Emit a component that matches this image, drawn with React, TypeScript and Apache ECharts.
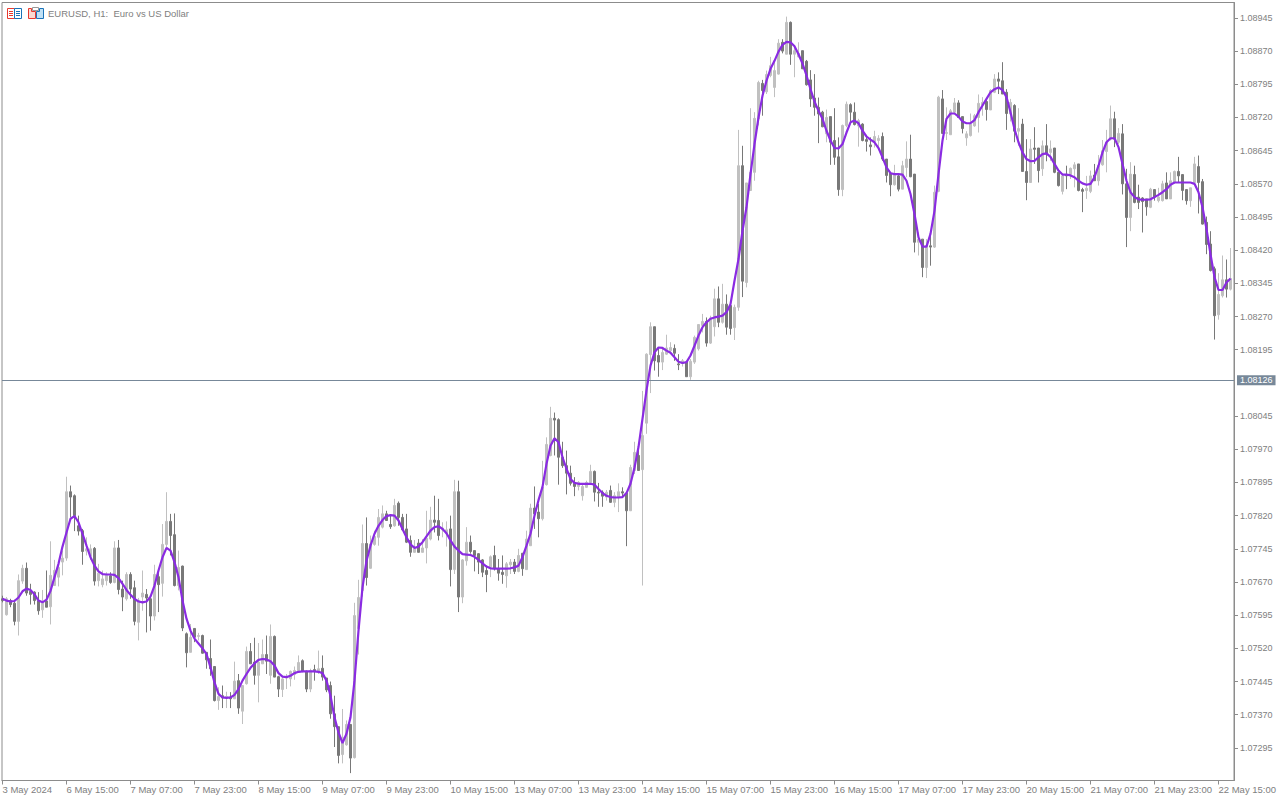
import React, { useEffect, useRef } from "react";
import * as echarts from "echarts";

const title = "EURUSD, H1:  Euro vs US Dollar";
const lastPrice = 1.08126;
const priceTicks = [1.08945,1.0887,1.08795,1.0872,1.08645,1.0857,1.08495,1.0842,1.08345,1.0827,1.08195,1.08045,1.0797,1.07895,1.0782,1.07745,1.0767,1.07595,1.0752,1.07445,1.0737,1.07295];
const timeLabels = ["3 May 2024","6 May 15:00","7 May 07:00","7 May 23:00","8 May 15:00","9 May 07:00","9 May 23:00","10 May 15:00","13 May 07:00","13 May 23:00","14 May 15:00","15 May 07:00","15 May 23:00","16 May 15:00","17 May 07:00","17 May 23:00","20 May 15:00","21 May 07:00","21 May 23:00","22 May 15:00"];

// open, close, low, high in points (1/100000)
const candlesPts = [
[107632,107628,107624,107639],[107596,107632,107594,107636],[107628,107619,107613,107632],[107622,107581,107572,107630],
[107581,107673,107549,107687],[107672,107701,107666,107709],[107701,107645,107639,107714],[107649,107642,107619,107666],
[107647,107628,107619,107649],[107627,107605,107596,107647],[107607,107622,107589,107652],[107627,107613,107613,107696],
[107614,107685,107574,107762],[107662,107696,107662,107720],[107681,107703,107660,107711],[107715,107724,107685,107741],
[107724,107874,107718,107908],[107874,107862,107816,107888],[107865,107820,107785,107868],[107797,107785,107775,107820],
[107786,107739,107709,107790],[107740,107745,107730,107771],[107728,107745,107720,107755],[107746,107672,107662,107749],
[107673,107690,107660,107711],[107664,107677,107658,107696],[107673,107685,107662,107692],[107684,107669,107666,107692],
[107669,107747,107667,107762],[107747,107653,107642,107765],[107654,107636,107604,107673],[107632,107687,107628,107692],
[107687,107654,107632,107692],[107657,107581,107572,107673],[107579,107629,107538,107634],[107636,107645,107605,107696],
[107642,107634,107556,107654],[107632,107593,107560,107636],[107593,107687,107583,107709],[107682,107664,107602,107696],
[107667,107755,107637,107801],[107755,107807,107745,107873],[107807,107775,107730,107824],[107777,107662,107660,107825],
[107662,107703,107651,107741],[107706,107566,107559,107707],[107553,107510,107477,107556],[107511,107545,107511,107575],
[107565,107545,107534,107565],[107547,107549,107538,107555],[107549,107509,107508,107551],[107511,107494,107474,107511],
[107497,107474,107458,107540],[107479,107402,107400,107479],[107402,107411,107381,107432],[107413,107408,107385,107436],
[107408,107411,107385,107422],[107410,107406,107385,107421],[107406,107446,107406,107490],[107447,107385,107372,107462],
[107378,107436,107349,107436],[107440,107513,107438,107524],[107513,107485,107485,107532],[107489,107459,107438,107544],
[107459,107489,107398,107532],[107485,107506,107485,107540],[107506,107491,107462,107549],[107459,107547,107440,107574],
[107547,107455,107455,107549],[107456,107428,107410,107458],[107427,107451,107410,107455],[107453,107455,107428,107462],
[107451,107468,107434,107470],[107461,107470,107449,107479],[107470,107488,107470,107504],[107492,107468,107466,107495],
[107468,107428,107421,107470],[107428,107470,107421,107474],[107472,107470,107447,107483],[107468,107474,107462,107515],
[107475,107455,107447,107504],[107453,107426,107421,107453],[107436,107372,107361,107445],[107372,107343,107297,107413],
[107343,107278,107260,107343],[107280,107319,107260,107383],[107302,107348,107300,107357],[107348,107272,107238,107349],
[107273,107594,107271,107623],[107565,107635,107506,107675],[107651,107757,107637,107800],[107757,107680,107662,107816],
[107701,107756,107700,107775],[107755,107773,107752,107786],[107771,107816,107752,107835],[107794,107824,107791,107843],
[107824,107809,107809,107831],[107800,107795,107790,107820],[107797,107843,107795,107858],[107848,107816,107797,107852],
[107816,107788,107786,107824],[107790,107760,107758,107824],[107764,107737,107727,107775],[107737,107745,107737,107765],
[107758,107737,107737,107767],[107737,107747,107737,107767],[107747,107769,107712,107831],[107767,107810,107764,107840],
[107810,107805,107782,107865],[107809,107775,107764,107858],[107788,107792,107771,107805],[107779,107788,107750,107807],
[107790,107698,107660,107820],[107698,107874,107688,107901],[107874,107636,107602,107899],[107636,107720,107622,107722],
[107718,107760,107707,107794],[107760,107739,107734,107775],[107741,107730,107694,107741],[107734,107715,107688,107735],
[107720,107692,107681,107722],[107696,107687,107647,107707],[107703,107727,107681,107730],[107730,107700,107696,107752],
[107700,107690,107673,107722],[107692,107687,107666,107730],[107684,107711,107657,107715],[107709,107715,107688,107722],
[107715,107694,107688,107722],[107694,107730,107692,107745],[107735,107700,107684,107735],[107698,107767,107698,107786],
[107752,107837,107752,107847],[107837,107824,107790,107886],[107828,107813,107771,107847],[107813,107884,107809,107944],
[107890,107981,107888,107997],[107956,108040,107954,108066],[108040,108036,107956,108053],[108037,107952,107890,108040],
[107952,107933,107928,107987],[107933,107916,107868,107967],[107916,107893,107888,107933],[107893,107886,107864,107907],
[107886,107895,107877,107898],[107865,107886,107854,107892],[107884,107895,107883,107899],[107895,107920,107892,107935],
[107920,107873,107852,107922],[107873,107871,107840,107894],[107873,107864,107840,107877],[107862,107873,107854,107878],
[107877,107850,107849,107888],[107850,107865,107839,107873],[107862,107874,107828,107893],[107874,107871,107862,107884],
[107871,107831,107751,107873],[107831,107929,107831,107935],[107922,107963,107914,107987],[107956,107922,107922,107974],
[107924,108001,107662,108102],[108029,108185,108005,108187],[108184,108247,108097,108257],[108247,108170,108148,108247],
[108182,108167,108134,108199],[108167,108189,108149,108199],[108185,108199,108183,108229],[108193,108200,108185,108212],
[108198,108187,108170,108207],[108163,108161,108149,108185],[108164,108170,108157,108174],[108167,108134,108134,108167],
[108134,108169,108127,108174],[108167,108223,108163,108227],[108197,108252,108193,108253],[108250,108259,108234,108276],
[108259,108210,108202,108268],[108210,108267,108208,108272],[108247,108310,108225,108333],[108310,108257,108246,108338],
[108257,108298,108254,108344],[108298,108246,108229,108320],[108295,108243,108229,108306],[108245,108291,108217,108297],
[108291,108611,108283,108692],[108611,108350,108314,108656],[108347,108572,108336,108572],[108555,108596,108555,108741],
[108596,108718,108577,108732],[108717,108799,108702,108803],[108797,108781,108724,108805],[108778,108817,108773,108826],
[108815,108837,108811,108857],[108788,108826,108766,108845],[108818,108888,108817,108897],[108890,108870,108865,108897],
[108863,108935,108863,108948],[108935,108863,108839,108937],[108863,108871,108811,108882],[108857,108865,108856,108890],
[108871,108830,108830,108871],[108847,108794,108792,108850],[108805,108762,108744,108827],[108764,108743,108724,108818],
[108743,108728,108662,108765],[108732,108699,108698,108735],[108683,108720,108664,108738],[108722,108664,108613,108722],
[108668,108630,108613,108741],[108631,108557,108543,108675],[108557,108702,108542,108704],[108702,108750,108698,108756],
[108749,108732,108705,108752],[108732,108704,108702,108754],[108701,108713,108654,108717],[108705,108668,108666,108707],
[108670,108666,108643,108677],[108658,108654,108634,108675],[108666,108677,108652,108690],[108668,108673,108652,108680],
[108677,108626,108622,108686],[108626,108589,108573,108626],[108594,108568,108542,108596],[108568,108592,108566,108613],
[108588,108558,108553,108592],[108558,108611,108558,108622],[108607,108626,108585,108666],[108626,108586,108585,108681],
[108592,108438,108415,108592],[108438,108445,108408,108460],[108445,108381,108359,108445],[108381,108430,108357,108445],
[108430,108427,108385,108453],[108427,108551,108425,108566],[108553,108766,108551,108769],[108762,108684,108683,108782],
[108684,108686,108669,108743],[108681,108735,108681,108739],[108732,108753,108729,108764],[108753,108720,108720,108759],
[108722,108695,108684,108722],[108674,108683,108656,108689],[108679,108705,108677,108729],[108701,108724,108699,108728],
[108720,108752,108686,108772],[108748,108754,108724,108766],[108756,108738,108713,108762],[108737,108781,108737,108784],
[108777,108807,108775,108818],[108807,108802,108773,108822],[108803,108773,108773,108845],[108777,108729,108692,108784],
[108728,108754,108711,108762],[108747,108689,108664,108750],[108689,108695,108656,108741],[108705,108598,108598,108717],
[108598,108573,108533,108671],[108573,108649,108573,108671],[108651,108648,108615,108698],[108651,108600,108573,108651],
[108604,108656,108588,108668],[108656,108637,108621,108705],[108641,108649,108622,108668],[108651,108596,108594,108651],
[108596,108566,108564,108596],[108553,108588,108546,108592],[108591,108588,108558,108611],[108591,108605,108581,108607],
[108604,108613,108562,108619],[108615,108555,108553,108615],[108557,108553,108506,108561],[108555,108560,108536,108588],
[108553,108588,108549,108600],[108590,108577,108577,108615],[108577,108611,108566,108635],[108613,108645,108611,108669],
[108643,108664,108596,108692],[108671,108717,108668,108747],[108717,108671,108653,108733],[108664,108684,108660,108696],
[108683,108570,108546,108705],[108570,108494,108427,108604],[108494,108592,108463,108619],[108591,108528,108526,108611],
[108540,108528,108513,108568],[108538,108530,108460,108540],[108536,108518,108498,108536],[108517,108558,108515,108561],
[108557,108540,108532,108558],[108532,108540,108528,108561],[108532,108570,108530,108577],[108572,108536,108536,108596],
[108536,108577,108536,108596],[108573,108598,108570,108600],[108598,108588,108573,108631],[108591,108555,108533,108591],
[108557,108532,108523,108558],[108532,108561,108518,108561],[108573,108615,108570,108631],[108609,108573,108503,108634],
[108575,108479,108478,108581],[108483,108433,108411,108496],[108434,108374,108372,108463],[108378,108272,108218,108383],
[108274,108320,108263,108368],[108317,108353,108313,108408],[108353,108332,108313,108399],[108332,108356,108329,108425],
];

const maPts = [
107632,107628,107626,107627,107635,107649,107655,107652,107642,107628,107624,107630,107650,107681,107711,107750,
107782,107813,107819,107805,107779,107752,107726,107707,107694,107688,107687,107687,107686,107679,107666,107652,
107641,107632,107626,107624,107626,107637,107662,107696,107726,107747,107741,107715,107681,107628,107587,107560,
107542,107531,107520,107507,107477,107443,107417,107409,107408,107409,107415,107428,107447,107462,107476,107486,
107494,107496,107495,107491,107481,107464,107456,107455,107458,107464,107467,107468,107468,107468,107468,107467,
107464,107447,107413,107364,107330,107306,107327,107364,107447,107560,107658,107718,107752,107779,107797,107810,
107819,107821,107820,107809,107790,107771,107755,107747,107750,107760,107773,107786,107794,107796,107790,107780,
107764,107750,107741,107733,107732,107731,107727,107720,107712,107705,107701,107700,107700,107700,107700,107701,
107703,107707,107726,107752,107779,107820,107855,107885,107937,107978,107995,107986,107952,107926,107903,107894,
107892,107892,107892,107892,107890,107880,107871,107865,107862,107861,107861,107862,107871,107892,107929,107975,
108039,108103,108159,108189,108200,108199,108193,108188,108178,108168,108165,108167,108182,108204,108227,108246,
108257,108265,108268,108270,108272,108280,108298,108351,108400,108464,108517,108592,108660,108720,108769,108803,
108830,108848,108869,108884,108891,108890,108881,108863,108842,108815,108784,108756,108735,108717,108690,108668,
108651,108650,108660,108686,108709,108713,108707,108690,108677,108670,108664,108651,108630,108607,108594,108592,
108592,108591,108577,108547,108502,108449,108428,108428,108457,108509,108592,108668,108717,108729,108729,108722,
108711,108707,108707,108714,108732,108747,108762,108777,108784,108788,108782,108766,108732,108694,108664,108641,
108626,108621,108622,108630,108637,108639,108631,108615,108600,108591,108591,108589,108585,108577,108571,108568,
108570,108585,108611,108641,108664,108673,108673,108653,108615,108577,108551,108540,108535,108534,108534,108535,
108540,108545,108551,108558,108568,108573,108573,108573,108573,108573,108570,108551,108517,108468,108411,108359,
108330,108330,108347,108356,
];

const LABEL_EVERY = 16;
const FONT = "'Liberation Sans', sans-serif";
const UP = "#c0c0c0";
const DOWN = "#787878";
const AXIS = "#8c8c8c";
const TEXT = "#808080";
const VIOLET = "#8a2be2";
const TAG = "#778899";

const barTicks = timeLabels.map((_, i) => i * LABEL_EVERY);

export default function App() {
  const ref = useRef<HTMLDivElement>(null);
  useEffect(() => {
    document.body.style.margin = "0";
    const chart = echarts.init(ref.current!, null, { renderer: "svg" });
    const red = "#e8392e";
    const blue = "#1a73b8";
    const hl = (x1: number, x2: number, y: number, stroke: string) => ({
      type: "line", shape: { x1, y1: y, x2, y2: y }, style: { stroke, lineWidth: 1 }, silent: true,
    });
    chart.setOption({
      animation: false,
      backgroundColor: "#ffffff",
      grid: { left: 2, right: 46, top: 2.5, bottom: 19.5, show: true, borderColor: AXIS, borderWidth: 1, outerBoundsMode: "none" },
      xAxis: {
        type: "value",
        min: -0.125,
        max: 307.875,
        axisLine: { show: true, onZero: false, lineStyle: { color: AXIS } },
        axisTick: { show: true, length: 4, lineStyle: { color: AXIS }, customValues: barTicks },
        axisLabel: {
          show: true, align: "left", color: TEXT, fontFamily: FONT, fontSize: 9.5,
          margin: 4, hideOverlap: false, customValues: barTicks,
          formatter: (v: number) => timeLabels[Math.round(v / LABEL_EVERY)],
        },
        splitLine: { show: false },
      },
      yAxis: {
        type: "value",
        position: "right",
        min: 1.072213,
        max: 1.089799,
        scale: true,
        axisLine: { show: true, onZero: false, lineStyle: { color: AXIS } },
        axisTick: { show: true, length: 4, lineStyle: { color: AXIS }, customValues: priceTicks },
        axisLabel: {
          color: TEXT, fontFamily: FONT, fontSize: 9, margin: 6, customValues: priceTicks,
          formatter: (v: number) => v.toFixed(5),
        },
        splitLine: { show: false },
      },
      series: [
        {
          type: "candlestick",
          data: candlesPts.map((r, i) => [i, ...r.map((p) => p / 100000)]),
          barWidth: 2,
          itemStyle: { color: UP, color0: DOWN, borderColor: UP, borderColor0: DOWN, borderWidth: 1 },
          silent: true,
        },
        {
          type: "line",
          data: maPts.map((p, i) => [i, p / 100000]),
          showSymbol: false,
          smooth: false,
          lineStyle: { color: VIOLET, width: 2.2 },
          silent: true,
          z: 5,
          markLine: {
            silent: true,
            symbol: "none",
            precision: 5,
            lineStyle: { color: TAG, width: 1, type: "solid" },
            label: {
              position: "end", formatter: lastPrice.toFixed(5), color: "#ffffff", backgroundColor: TAG,
              fontFamily: FONT, fontSize: 9, padding: [1, 3, 0, 3], distance: 3,
            },
            data: [{ yAxis: lastPrice }],
          },
        },
      ],
      graphic: [
        { type: "text", x: 48, y: 8, style: { text: title, fill: TEXT, font: `9.5px ${FONT}` }, silent: true },
        { type: "rect", shape: { x: 7.5, y: 8.5, width: 7, height: 10 }, style: { fill: "#fff", stroke: red, lineWidth: 1 }, silent: true },
        { type: "rect", shape: { x: 14.5, y: 8.5, width: 7, height: 10 }, style: { fill: "#fff", stroke: blue, lineWidth: 1 }, silent: true },
        hl(9, 13, 11.5, red), hl(9, 13, 13.5, red), hl(9, 13, 15.5, red),
        hl(16, 20, 11.5, blue), hl(16, 20, 13.5, blue), hl(16, 20, 15.5, blue),
        { type: "polygon", shape: { points: [[28.5, 8.5], [31.5, 8.5], [31.5, 11.5], [35.5, 11.5], [35.5, 18.5], [28.5, 18.5]] }, style: { fill: "#fbd9d2", stroke: red, lineWidth: 1 }, silent: true },
        { type: "polygon", shape: { points: [[36.5, 11.5], [39.5, 11.5], [39.5, 8.5], [43.5, 8.5], [43.5, 18.5], [36.5, 18.5]] }, style: { fill: "#bfe0f5", stroke: blue, lineWidth: 1 }, silent: true },
        { type: "rect", shape: { x: 32.5, y: 7.5, width: 6, height: 3 }, style: { fill: "#fff", stroke: "#999", lineWidth: 1 }, silent: true },
      ],
    });
    return () => chart.dispose();
  }, []);
  return <div ref={ref} style={{ position: "absolute", left: 0, top: 0, width: 1280, height: 800 }} />;
}
